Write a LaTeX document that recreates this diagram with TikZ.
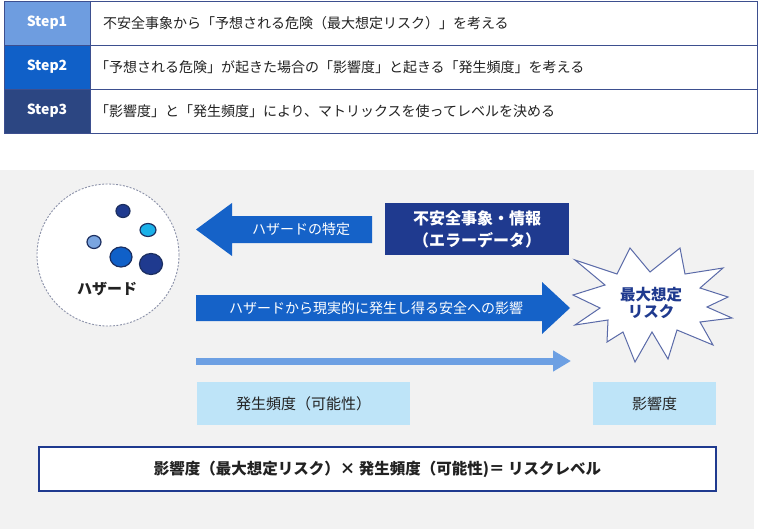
\documentclass[tikz,border=0pt]{standalone}
\usepackage{fontspec}
\setmainfont{Noto Sans CJK JP}
\usetikzlibrary{arrows.meta,shapes.geometric}
\definecolor{stepA}{HTML}{6E9DE0}
\definecolor{stepB}{HTML}{1060C8}
\definecolor{stepC}{HTML}{2C4682}
\definecolor{tblline}{HTML}{3D4F8F}
\definecolor{txt}{HTML}{222222}
\definecolor{bggray}{HTML}{F2F2F2}
\definecolor{arrowblue}{HTML}{1562C8}
\definecolor{navy}{HTML}{1F3A8F}
\definecolor{thinblue}{HTML}{6DA0E3}
\definecolor{lightcyan}{HTML}{BEE4F8}
\definecolor{dashgray}{HTML}{8A90A8}
\definecolor{dotline}{HTML}{1C2F60}
\definecolor{dotcyan}{HTML}{1AB0E8}
\definecolor{dotlight}{HTML}{7AA5E0}
\definecolor{starline}{HTML}{5A6AA8}
\tikzset{
  stepcell/.style={minimum width=86pt, minimum height=44pt, inner sep=0pt,
    text=white, font=\bfseries\fontsize{14}{16}\selectfont, draw=tblline, line width=0.8pt},
  desccell/.style={minimum width=667pt, minimum height=44pt, inner xsep=13pt, inner ysep=0pt,
    text width=641pt, align=left, font=\fontsize{14}{16}\selectfont, draw=tblline,
    line width=0.8pt, fill=white, text=txt},
  dot/.style={ellipse, draw=dotline, line width=1.2pt, inner sep=0pt},
  blockarrow/.style={fill=arrowblue},
  arrowtext/.style={text=white, font=\fontsize{14}{16}\selectfont},
  navybox/.style={fill=navy, text=white, font=\bfseries\fontsize{16}{22}\selectfont,
    minimum width=184pt, minimum height=52pt, align=center, inner sep=0pt},
  lbbox/.style={fill=lightcyan, text=txt, font=\fontsize{15}{18}\selectfont,
    minimum height=43pt, inner sep=0pt},
  thinarrow/.style={draw=thinblue, line width=7pt, -{Triangle[length=18pt,width=20pt]}},
  formula/.style={draw=navy, line width=1.8pt, fill=white, text=txt,
    font=\bfseries\fontsize{15.5}{18}\selectfont, minimum width=677pt, minimum height=44pt, inner sep=0pt},
}
\begin{document}
\begin{tikzpicture}[x=1pt,y=-1pt]
\useasboundingbox (0,0) rectangle (759,529);
\fill[white] (0,0) rectangle (759,529);
% table
\node[stepcell, fill=stepA] (s1) at (47,23) {Step1};
\node[stepcell, fill=stepB] (s2) at (47,67) {Step2};
\node[stepcell, fill=stepC] (s3) at (47,111) {Step3};
\node[desccell] (d1) at (423.5,23) {不安全事象から「予想される危険（最大想定リスク）」を考える};
\node[desccell, inner xsep=5pt, text width=657pt] (d2) at (423.5,67) {「予想される危険」が起きた場合の「影響度」と起きる「発生頻度」を考える};
\node[desccell, inner xsep=5pt, text width=657pt] (d3) at (423.5,111) {「影響度」と「発生頻度」により、マトリックスを使ってレベルを決める};
% gray panel
\fill[bggray] (0,170) rectangle (754,529);
% hazard circle
\node[circle, draw=dashgray, line width=0.9pt, dash pattern=on 2pt off 1.5pt, fill=white,
  minimum size=142pt, inner sep=0pt] (haz) at (108,255) {};
\node[dot, fill=navy, minimum width=14pt, minimum height=13pt] (c1) at (123,211) {};
\node[dot, fill=dotcyan, minimum width=16pt, minimum height=13pt] (c2) at (148,230) {};
\node[dot, fill=dotlight, minimum width=14pt, minimum height=13pt] (c3) at (94,242) {};
\node[dot, fill=stepB, minimum width=22pt, minimum height=20pt] (c4) at (121,257) {};
\node[dot, fill=navy, minimum width=23pt, minimum height=21pt] (c5) at (151,264) {};
\node[text=txt, font=\bfseries\fontsize{15}{18}\selectfont] (hazlabel) at (107,289) {ハザード};
% left block arrow
\fill[blockarrow] (196,229.5) -- (232,203) -- (232,216) -- (372,216) -- (372,243) -- (232,243) -- (232,256) -- cycle;
\node[arrowtext] (identify) at (301,229.5) {ハザードの特定};
% source box
\node[navybox] (src) at (477,229) {不安全事象・情報\\（エラーデータ）};
% big right block arrow
\fill[blockarrow] (196,295) -- (542,295) -- (542,282) -- (570,308) -- (542,334) -- (542,321) -- (196,321) -- cycle;
\node[arrowtext] (effect) at (376,308) {ハザードから現実的に発生し得る安全への影響};
% starburst
\filldraw[fill=white, draw=starline, line width=1pt]
  (575,260) -- (617,274) -- (630,248) -- (650,272) -- (680,248) -- (685,274) --
  (723,268) -- (700,288) -- (728,297) -- (707,307) -- (732,318) -- (700,322) --
  (713,345) -- (677,330) -- (668,359) -- (652,332) -- (635,362) -- (623,332) --
  (607,342) -- (608,320) -- (575,325) -- (600,308) -- (573,295) -- (605,285) -- cycle;
\node[text=navy, font=\bfseries\fontsize{15.5}{17}\selectfont, align=center] (risk) at (651,303) {最大想定\\リスク};
% thin arrow
\coordinate (fs) at (196,361);
\coordinate (fe) at (571,361);
\draw[thinarrow] (fs) -- (fe);
% light boxes
\node[lbbox, minimum width=213pt] (freq) at (303.5,403.5) {発生頻度（可能性）};
\node[lbbox, minimum width=123pt] (impact) at (654.5,403.5) {影響度};
% formula box
\node[formula] (level) at (377.5,469) {影響度（最大想定リスク）× 発生頻度（可能性)＝ リスクレベル};
\end{tikzpicture}
\end{document}
